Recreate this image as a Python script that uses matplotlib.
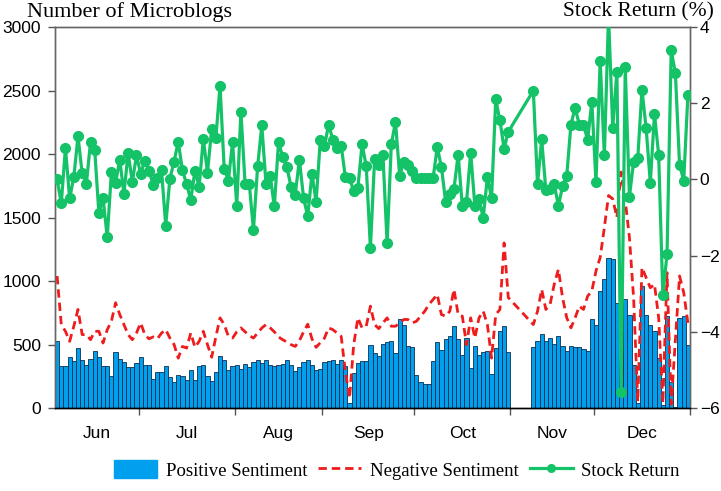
import numpy as np
import matplotlib
matplotlib.use('Agg')
import matplotlib.pyplot as plt
from matplotlib.patches import Patch
from matplotlib.lines import Line2D

nan = np.nan

# trading days per month (bars are one per day)
months = ['Jun', 'Jul', 'Aug', 'Sep', 'Oct', 'Nov', 'Dec']
days_per_month = [20, 23, 21, 22, 23, 20, 23]

# positive sentiment microblogs (bars)
positive = [
    530, 332, 332, 398, 372, 472, 375, 340, 385, 451, 398, 327, 332, 253, 441, 388, 361, 322, 322, 353,
    401, 335, 335, 230, 282, 280, 327, 243, 208, 261, 253, 222, 296, 222, 332, 340, 253, 216, 280, 411,
    380, 300, 330,
    340, 310, 350, 320, 360, 380, 355, 380, 340, 330, 335, 345, 375, 340, 290, 320, 360, 380, 335, 300, 310,
    365, 367, 380, 350, 380, 330, 40, 274, 353, 367, 372, 499, 433, 406, 504, 520, 530, 433, 697, 657, 485, 477,
    261, 208, 187, 187, 367, 517, 459, 543, 570, 649, 543, 420, 551, 314, 485, 420, 438, 446, 269, 472, 604, 644, 438,
    nan, nan, nan, nan, nan, 478, 530, 583, 530, 551, 507, 565, 485, 446, 485, 478, 478, 467, 451, 697,
    657, 921, 1013, 1185, 1177, 829, 835, 855, 736, 340, 37, 960, 736, 657, 604, 393, 24, 728, 208, 10, 705, 723, 499,
]

# negative sentiment microblogs (dashed line)
negative = [
    1039, 657, 604, 525, 644, 776, 578, 578, 538, 604, 604, 512, 617, 683, 829, 736, 657, 578, 538, 591,
    670, 578, 545, 560, 545, 590, 617, 551, 500, 393, 485, 472, 591, 478, 525, 604, 499, 400, 560, 710,
    657, 565, 551,
    600, 631, 600, 570, 551, 591, 630, 657, 631, 600, 560, 538, 520, 499, 485, 530, 600, 660, 545, 478, 515,
    551, 631, 617, 591, 565, 288, 77, 499, 710, 631, 644, 802, 657, 625, 670, 710, 644, 644, 670, 697, 697, 670,
    683, 723, 762, 815, 855, 894, 736, 723, 762, 934, 736, 723, 499, 710, 551, 710, 762, 657, 393, 736, 776, 1300, 870,
    nan, nan, nan, nan, nan, 657, 762, 934, 776, 815, 974, 1092, 868, 710, 631, 710, 802, 776, 881, 921,
    1079, 1185, 1422, 1673, 1647, 1501, 1858, 1633, 1343, 868, 50, 1106, 1026, 947, 974, 710, 37, 1066, 30, 540, 1040, 908, 670,
]

# daily stock return in %
stock_return = [
    0.00, -0.63, 0.83, -0.50, 0.06, 1.13, 0.16, -0.12, 0.98, 0.78, -0.88, -0.49, -1.52, 0.19, -0.09, 0.52, -0.38, 0.70, -0.07, 0.63,
    0.15, 0.49, 0.23, -0.14, 0.05, 0.24, -1.21, 0.02, 0.47, 0.99, 0.24, -0.12, -0.54, 0.23, -0.19, 1.07, 0.18, 1.32, 1.08, 2.46,
    0.28, -0.03, 0.98,
    -0.69, 1.78, -0.12, -0.11, -1.33, 0.34, 1.42, -0.11, 0.10, -0.71, 0.97, 0.60, 0.32, -0.19, -0.40, 0.52, -0.49, -0.97, 0.15, -0.58, 1.03,
    0.87, 1.44, 1.04, 0.83, 0.89, 0.06, 0.04, -0.31, -0.22, 0.92, 0.35, -1.81, 0.54, 0.39, 0.63, -1.68, 0.92, 1.51, 0.10, 0.47, 0.37, 0.23,
    0.03, 0.03, 0.03, 0.03, 0.03, 0.85, 0.32, -0.58, -0.38, -0.25, 0.65, -0.70, -0.60, 0.70, -0.69, -0.51, -1.01, 0.06, -0.49, 2.10, 1.55, 0.81, 1.25,
    nan, nan, nan, nan, nan, 2.33, -0.12, 1.05, -0.29, -0.25, -0.13, -0.69, -0.18, 0.10, 1.44, 1.88, 1.44, 1.44, 1.04, 2.04,
    -0.07, 3.12, 0.63, 4.3, 1.35, 2.83, -5.57, 2.94, -0.45, 0.46, 0.56, 2.35, 1.35, -0.09, 1.71, 0.65, -3.04, -1.96, 3.39, 2.79, 0.39, -0.03, 2.22,
]

pos = np.array(positive, dtype=float)
neg = np.array(negative, dtype=float)
ret = np.array(stock_return, dtype=float)
x = np.arange(len(pos))

blue = '#00a0ee'
red = '#ee1c1c'
green = '#14c267'
serif = 'Liberation Serif'
sans = 'Liberation Sans'

fig = plt.figure(figsize=(7.21, 4.91), dpi=100)
ax = fig.add_axes([0.0763, 0.169, 0.8807, 0.776])
ax2 = ax.twinx()

ax.bar(x, pos, width=1.0, color=blue, edgecolor='#0d2f4f', linewidth=0.6, zorder=2)
m = ~np.isnan(neg)
ax.plot(x[m], neg[m], color=red, lw=2.0, linestyle=(0, (3, 1.8)), zorder=3)
m = ~np.isnan(ret)
ax2.plot(x[m], ret[m], color=green, lw=2.3, marker='o', ms=7, zorder=4)

ax.set_xlim(-0.5, len(pos) - 0.5)
ax.set_ylim(0, 3000)
ax.set_yticks(np.arange(0, 3001, 500))
ax2.set_ylim(-6, 4)
ax2.set_yticks(np.arange(-6, 5, 2))

# month boundaries as major ticks, month names centered as minor ticks
bounds = np.cumsum(days_per_month) - 0.5
starts = np.concatenate([[-0.5], bounds[:-1]])
ax.set_xticks(bounds)
ax.set_xticklabels([])
ax.set_xticks((starts + bounds) / 2, minor=True)
ax.set_xticklabels(months, minor=True, fontfamily=sans, fontsize=12.5)
ax.tick_params(axis='x', which='major', length=5, width=1, color='#555555', direction='out')
ax.tick_params(axis='x', which='minor', length=0, pad=13)

for a in (ax, ax2):
    for s in a.spines.values():
        s.set_color('#666666')
        s.set_linewidth(1.0)
    a.spines['bottom'].set_color('black')

ax.tick_params(axis='y', length=5, width=1, color='#555555', labelsize=12.5, pad=5)
ax2.tick_params(axis='y', length=5, width=1, color='#555555', labelsize=12.5, pad=2)
for lab in ax.get_yticklabels() + ax2.get_yticklabels():
    lab.set_fontfamily(sans)

fig.text(27 / 721, 1 - 12 / 491, 'Number of Microblogs', fontfamily=serif, fontsize=16,
         ha='left', va='center')
fig.text(714 / 721, 1 - 12 / 491, 'Stock Return (%)', fontfamily=serif, fontsize=15.5,
         ha='right', va='center')

handles = [
    Patch(facecolor=blue, edgecolor=blue),
    Line2D([0], [0], color=red, lw=2.0, linestyle=(0, (3, 1.8))),
    Line2D([0], [0], color=green, lw=2.3, marker='o', ms=5.5),
]
labels = ['Positive Sentiment', 'Negative Sentiment', 'Stock Return']
fig.legend(handles, labels, loc='center', bbox_to_anchor=(397 / 721, 1 - 470 / 491), ncol=3,
           frameon=False, prop={'family': serif, 'size': 13.5}, handlelength=2.3,
           handleheight=1.1, handletextpad=0.45, columnspacing=0.6)

fig.savefig('out.png', dpi=100)
